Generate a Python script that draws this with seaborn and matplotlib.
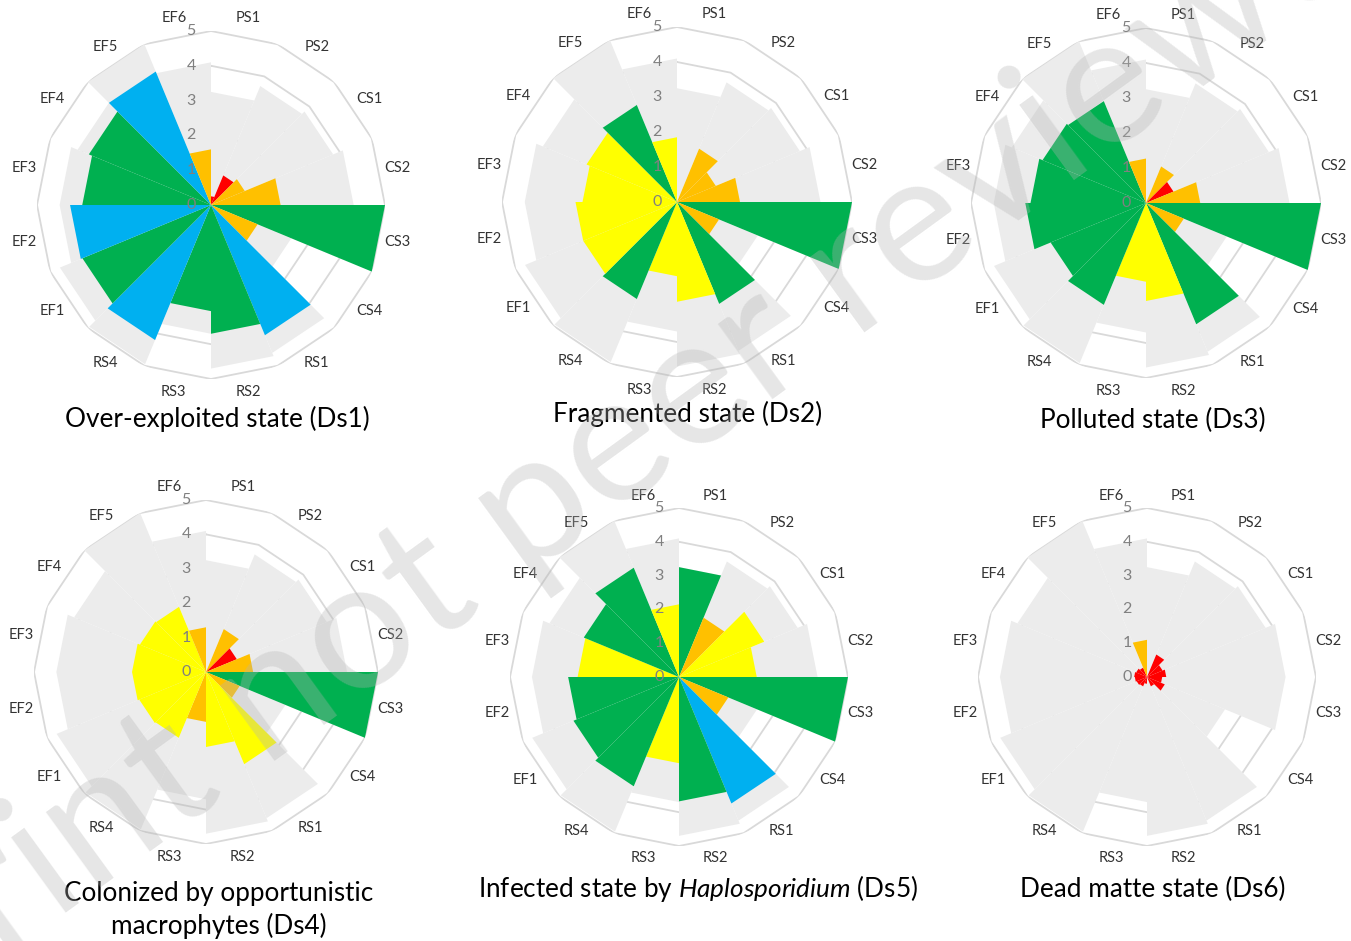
import numpy as np
import matplotlib
matplotlib.use('Agg')
import matplotlib.pyplot as plt
import seaborn as sns

# indicators around the rose, clockwise from north
categories = ['PS1', 'PS2', 'CS1', 'CS2', 'CS3', 'CS4', 'RS1', 'RS2',
              'RS3', 'RS4', 'EF1', 'EF2', 'EF3', 'EF4', 'EF5', 'EF6']

# light grey reference layer, identical in every panel
reference = [3.25, 3.7, 3.8, 4.1, 4.1, 2.5, 4.6, 4.7,
             3.7, 4.95, 4.7, 4.35, 4.35, 4.15, 5.0, 4.1]

# per-state scores and status class (R red, O orange, Y yellow, G green, B blue)
ds1_values = [0.25, 0.92, 1.05, 2.0, 5.0, 1.45, 4.05, 3.7, 3.05, 4.2, 4.0, 4.05, 3.7, 3.8, 4.15, 1.6]
ds1_status = ['R', 'R', 'O', 'O', 'G', 'O', 'B', 'G', 'G', 'B', 'G', 'B', 'G', 'G', 'B', 'O']

ds2_values = [0.0, 1.65, 1.2, 1.8, 5.0, 1.3, 3.15, 2.85, 2.12, 3.0, 2.9, 2.9, 2.7, 2.8, 3.0, 1.85]
ds2_status = ['O', 'O', 'O', 'O', 'G', 'O', 'G', 'Y', 'Y', 'G', 'Y', 'Y', 'Y', 'Y', 'G', 'Y']

ds3_values = [0.0, 1.13, 0.85, 1.55, 5.0, 1.17, 3.75, 2.8, 2.25, 3.15, 2.95, 3.45, 3.3, 3.2, 3.15, 1.27]
ds3_status = ['O', 'O', 'R', 'O', 'G', 'O', 'G', 'Y', 'Y', 'G', 'G', 'G', 'G', 'G', 'G', 'O']

ds4_values = [0.0, 1.35, 0.97, 1.37, 5.0, 1.06, 2.9, 2.18, 1.45, 2.07, 2.1, 2.15, 2.15, 2.08, 2.05, 1.3]
ds4_status = ['O', 'O', 'R', 'O', 'G', 'O', 'Y', 'Y', 'O', 'Y', 'Y', 'Y', 'Y', 'Y', 'Y', 'O']

ds5_values = [3.25, 1.9, 2.73, 2.3, 5.0, 1.58, 4.05, 3.68, 2.55, 3.5, 3.38, 3.28, 3.0, 3.05, 3.5, 2.15]
ds5_status = ['G', 'O', 'Y', 'Y', 'G', 'O', 'B', 'G', 'Y', 'G', 'G', 'G', 'Y', 'G', 'G', 'Y']

ds6_values = [0.0, 0.72, 0.5, 0.57, 0.45, 0.57, 0.3, 0.0, 0.2, 0.3, 0.33, 0.36, 0.38, 0.35, 0.3, 1.1]
ds6_status = ['R', 'R', 'R', 'R', 'R', 'R', 'R', 'R', 'R', 'R', 'R', 'R', 'R', 'R', 'R', 'O']

titles = ['Over-exploited state (Ds1)',
          'Fragmented state (Ds2)',
          'Polluted state (Ds3)',
          'Colonized by opportunistic\nmacrophytes (Ds4)',
          'Infected state by $\\mathit{Haplosporidium}$ (Ds5)',
          'Dead matte state (Ds6)']

status_colors = dict(zip(['R', 'O', 'Y', 'G', 'B'],
                         sns.color_palette(['#FF0000', '#FFC000', '#FFFF00', '#00B050', '#00B0F0'])))

sns.set_theme(style='white')
plt.rcParams['font.family'] = ['Lato', 'DejaVu Sans']
plt.rcParams['mathtext.fontset'] = 'custom'
plt.rcParams['mathtext.rm'] = 'Lato'
plt.rcParams['mathtext.it'] = 'Lato:italic'

W, H = 1351, 941
fig = plt.figure(figsize=(W / 100, H / 100), dpi=100)

# panel centre (px from top-left), radius of the 5 ring, title centre
panels = [
    (ds1_values, ds1_status, (211, 205, 174), (217, 419)),
    (ds2_values, ds2_status, (677, 202, 175), (688, 414)),
    (ds3_values, ds3_status, (1146, 203, 175), (1153, 420)),
    (ds4_values, ds4_status, (206, 672, 172), (219, 910)),
    (ds5_values, ds5_status, (679, 677, 169), (698, 889)),
    (ds6_values, ds6_status, (1147, 677, 169), (1153, 889)),
]


def draw_rose(ax, values, status):
    n = len(categories)
    edges = np.deg2rad(np.arange(n + 1) * 360 / n)
    ax.set_theta_zero_location('N')
    ax.set_theta_direction(-1)
    # polygonal grid rings
    for r in range(1, 6):
        ax.plot(edges, [r] * (n + 1), color='#D9D9D9', lw=1.3, zorder=1)
    for i in range(n):
        ax.fill([0, edges[i], edges[i + 1]], [0, reference[i], reference[i]],
                color='#ECECEC', lw=0, zorder=2)
    for i, (v, s) in enumerate(zip(values, status)):
        if v > 0:
            ax.fill([0, edges[i], edges[i + 1]], [0, v, v],
                    color=status_colors[s], lw=0, zorder=3)
    ax.set_ylim(0, 5)
    ax.grid(False)
    ax.set_xticks([])
    ax.set_yticks([])
    ax.spines['polar'].set_visible(False)
    ax.patch.set_alpha(0)
    mid = (edges[:-1] + edges[1:]) / 2
    for t, lab in zip(mid, categories):
        ax.text(t, 5.47, lab, ha='center', va='center', fontsize=10.5,
                color='#333333', clip_on=False)
    for v in range(6):
        ax.annotate(str(v), xy=(0, v), xytext=(-20, 0), textcoords='offset pixels',
                    ha='center', va='center', fontsize=11.5, color='#808080',
                    zorder=5, annotation_clip=False)


for values, status, (cx, cy, R), (tx, ty) in panels:
    ax = fig.add_axes([(cx - R) / W, (H - cy - R) / H, 2 * R / W, 2 * R / H],
                      projection='polar')
    draw_rose(ax, values, status)

for (values, status, c, (tx, ty)), title in zip(panels, titles):
    fig.text(tx / W, 1 - ty / H, title, ha='center', va='center',
             fontsize=18.8, color='black', linespacing=1.3)

# preprint watermark
fig.text(545 / W, 1 - 500 / H, 'Preprint not peer reviewed', rotation=36,
         rotation_mode='anchor', ha='center', va='center', fontsize=132,
         color='#B4B4B4', alpha=0.33, zorder=10)

fig.savefig('out.png', dpi=100)
